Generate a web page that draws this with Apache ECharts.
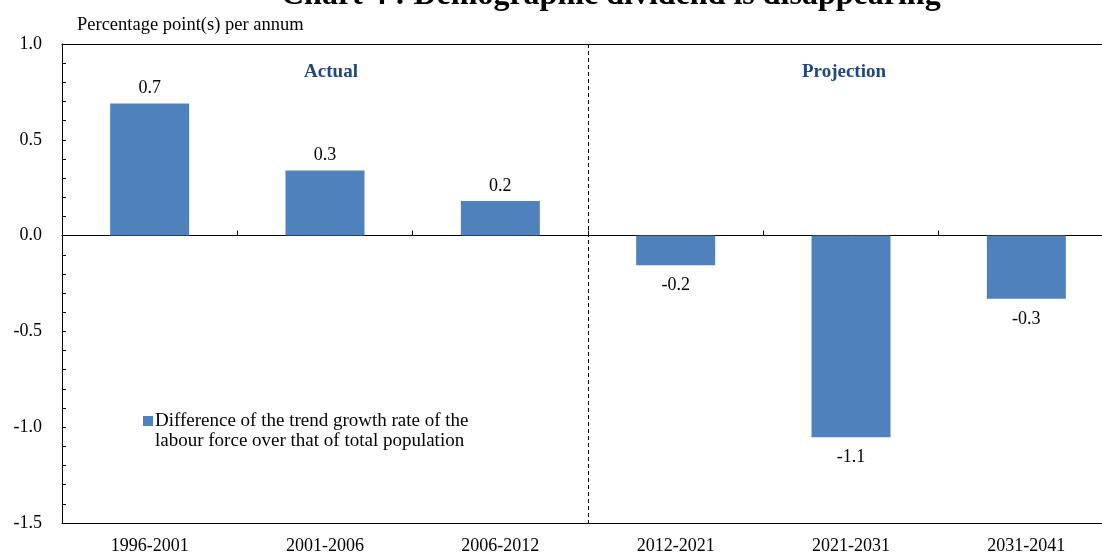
<!DOCTYPE html>
<html>
<head>
<meta charset="utf-8">
<script src="https://cdn.jsdelivr.net/npm/echarts@6/dist/echarts.min.js"></script>
<style>
  html, body { margin: 0; padding: 0; background: #fff; overflow: hidden; }
  /* the reference is cropped on the right, so the canvas runs a little past the window */
  #chart { width: 1116px; height: 555px; }
</style>
</head>
<body>
<div id="chart"></div>
<script>
// data
const periods = ['1996-2001', '2001-2006', '2006-2012', '2012-2021', '2021-2031', '2031-2041']
const diffValues = [0.69, 0.34, 0.18, -0.155, -1.052, -0.33]
const yTicks = [-1.5, -1.0, -0.5, 0.0, 0.5, 1.0]
const seriesName = 'Difference of the trend growth rate of the\nlabour force over that of total population'

const FONT = '"Liberation Serif", "Times New Roman", serif'
const BAR = '#4f81bd'
const NAVY = '#1f497d'

const chart = echarts.init(document.getElementById('chart'))

const barData = diffValues.map(v => ({
  value: v,
  label: v < 0 ? { position: 'bottom', distance: 11 } : { position: 'top', distance: 6 }
}))

const option = {
  animation: false,
  backgroundColor: '#fff',
  textStyle: { fontFamily: FONT, color: '#000' },
  title: [
    {
      text: 'Chart 4 : Demographic dividend is disappearing',
      left: 276, top: -25,
      textStyle: { fontFamily: FONT, fontSize: 32, fontWeight: 'bold', color: '#000' }
    },
    {
      text: 'Percentage point(s) per annum',
      left: 72, top: 11,
      textStyle: { fontFamily: FONT, fontSize: 18.5, fontWeight: 'normal', color: '#000' }
    },
    {
      text: 'Actual',
      left: 326, top: 58, textAlign: 'center',
      textStyle: { fontFamily: FONT, fontSize: 19, fontWeight: 'bold', color: NAVY }
    },
    {
      text: 'Projection',
      left: 839, top: 58, textAlign: 'center',
      textStyle: { fontFamily: FONT, fontSize: 19, fontWeight: 'bold', color: NAVY }
    }
  ],
  legend: {
    left: 138, top: 386,
    orient: 'vertical',
    itemWidth: 10, itemHeight: 10,
    icon: 'rect',
    // blank first line keeps the square level with the first line of text
    formatter: name => ' \n' + name,
    textStyle: { fontFamily: FONT, fontSize: 19, color: '#000', lineHeight: 20, padding: [0, 0, 0, -3] },
    data: [seriesName]
  },
  grid: { left: 62, right: 2, top: 44, bottom: 31 },
  xAxis: [
    {
      // axis through zero: line and upward ticks only
      type: 'category',
      data: periods,
      axisLine: { onZero: true, lineStyle: { color: '#000', width: 1 } },
      axisTick: { show: true, inside: true, length: 5, lineStyle: { color: '#000' } },
      axisLabel: { show: false },
      splitLine: { show: false }
    },
    {
      // bottom axis: labels and the Actual / Projection divider
      type: 'category',
      data: periods,
      position: 'bottom',
      axisLine: { onZero: false, lineStyle: { color: '#000', width: 1 } },
      axisTick: { show: false },
      axisLabel: { fontFamily: FONT, fontSize: 18, color: '#000', margin: 14 },
      splitLine: {
        show: true,
        showMinLine: false,
        showMaxLine: false,
        interval: (idx) => idx === 0 || idx === 3,
        lineStyle: { color: '#000', type: [4, 3], width: 1 }
      }
    },
    {
      // top frame line
      type: 'category',
      data: periods,
      position: 'top',
      axisLine: { onZero: false, lineStyle: { color: '#000', width: 1 } },
      axisTick: { show: false },
      axisLabel: { show: false }
    }
  ],
  yAxis: {
    type: 'value',
    min: yTicks[0], max: yTicks[yTicks.length - 1], interval: 0.5,
    axisLine: { show: true, lineStyle: { color: '#000' } },
    axisTick: { show: true, inside: true, length: 4, lineStyle: { color: '#000' } },
    minorTick: { show: true, splitNumber: 5, length: 4, lineStyle: { color: '#000' } },
    splitLine: { show: false },
    axisLabel: {
      fontFamily: FONT, fontSize: 18, color: '#000', margin: 20,
      formatter: v => v.toFixed(1)
    }
  },
  series: [
    {
      name: seriesName,
      type: 'bar',
      xAxisIndex: 0,
      data: barData,
      barWidth: 79,
      itemStyle: { color: BAR },
      label: {
        show: true,
        fontFamily: FONT, fontSize: 18, color: '#000',
        formatter: p => p.value.toFixed(1)
      }
    }
  ]
}

chart.setOption(option)
</script>
</body>
</html>
